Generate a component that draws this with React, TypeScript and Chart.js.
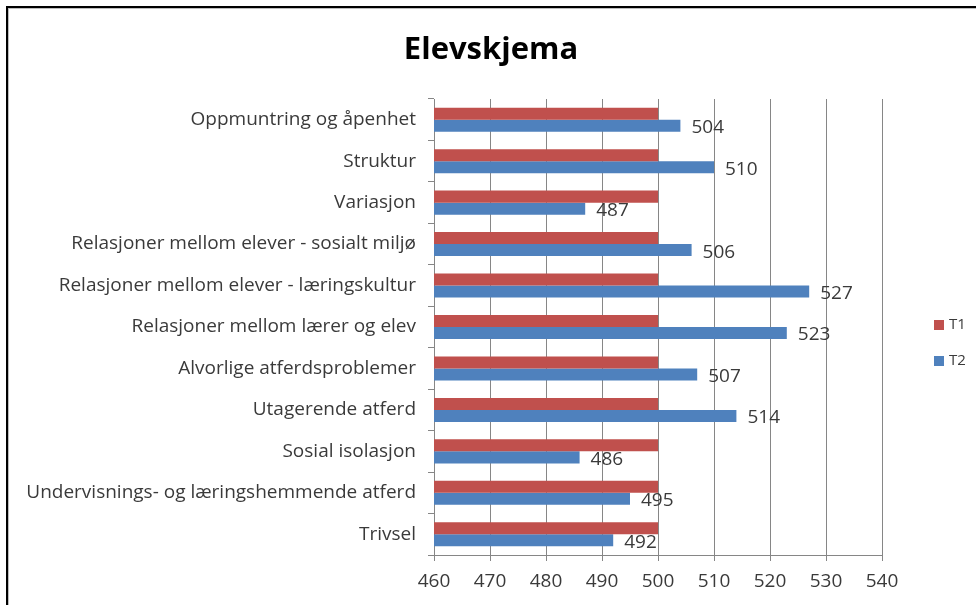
import React, { useEffect, useRef } from "react";
import { Chart, registerables } from "chart.js";

Chart.register(...registerables);

const categories = [
  "Oppmuntring og åpenhet",
  "Struktur",
  "Variasjon",
  "Relasjoner mellom elever - sosialt miljø",
  "Relasjoner mellom elever - læringskultur",
  "Relasjoner mellom lærer og elev",
  "Alvorlige atferdsproblemer",
  "Utagerende atferd",
  "Sosial isolasjon",
  "Undervisnings- og læringshemmende atferd",
  "Trivsel",
];
const t1Values = [500, 500, 500, 500, 500, 500, 500, 500, 500, 500, 500];
const t2Values = [504, 510, 487, 506, 527, 523, 507, 514, 486, 495, 492];
const seriesNames = ["T1", "T2"];
const titleText = "Elevskjema";
const xMin = 460;
const xMax = 540;
const xStep = 10;

const FONT = "'Open Sans', 'Liberation Sans', sans-serif";
const TEXT = "#3a3a3a";

export default function App() {
  const ref = useRef<HTMLCanvasElement | null>(null);
  useEffect(() => {
    const canvas = ref.current;
    if (!canvas) return;

    const framePlugin = {
      id: "frame",
      beforeDraw(chart: any) {
        const c = chart.ctx;
        c.save();
        c.fillStyle = "#ffffff";
        c.fillRect(0, 0, chart.width, chart.height);
        c.fillStyle = "#000000";
        c.fillRect(6, 6, chart.width - 6, 2);
        c.fillRect(6, 6, 2, chart.height - 6);
        c.fillStyle = "#bdbdbd";
        c.fillRect(8, 8, chart.width - 8, 1);
        c.fillRect(8, 8, 1, chart.height - 8);
        c.restore();
      },
      afterDraw(chart: any) {
        const c = chart.ctx;
        c.save();
        c.font = `bold 31px ${FONT}`;
        c.fillStyle = "#000000";
        c.textAlign = "center";
        c.textBaseline = "middle";
        c.fillText(titleText, 491, 50);
        c.restore();
      },
    };

    const labelPlugin = {
      id: "valueLabels",
      afterDatasetsDraw(chart: any) {
        const c = chart.ctx;
        const meta = chart.getDatasetMeta(1);
        const data = chart.data.datasets[1].data;
        c.save();
        c.font = `19px ${FONT}`;
        c.fillStyle = TEXT;
        c.textAlign = "left";
        c.textBaseline = "middle";
        meta.data.forEach((el: any, i: number) => {
          c.fillText(String(data[i]), el.x + 11, el.y + 2);
        });
        c.restore();
      },
    };

    const legendPlugin = {
      id: "customLegend",
      afterDraw(chart: any) {
        const c = chart.ctx;
        c.save();
        c.font = `15px ${FONT}`;
        c.textBaseline = "middle";
        c.textAlign = "left";
        const ys = [325, 361];
        chart.data.datasets.forEach((ds: any, i: number) => {
          c.fillStyle = ds.backgroundColor;
          c.fillRect(934, ys[i] - 5, 10, 10);
          c.fillStyle = TEXT;
          c.fillText(ds.label, 949, ys[i]);
        });
        c.restore();
      },
    };

    const chart = new Chart(canvas, {
      type: "bar",
      data: {
        labels: categories,
        datasets: [
          {
            label: seriesNames[0],
            data: t1Values,
            backgroundColor: "#C0504D",
            borderWidth: 0,
          },
          {
            label: seriesNames[1],
            data: t2Values,
            backgroundColor: "#4F81BD",
            borderWidth: 0,
          },
        ],
      },
      options: {
        indexAxis: "y",
        animation: false,
        responsive: false,
        maintainAspectRatio: false,
        datasets: {
          bar: { categoryPercentage: 0.58, barPercentage: 1.0 },
        },
        layout: { padding: { left: 10, right: 94, top: 99, bottom: 0 } },
        plugins: {
          legend: { display: false },
          tooltip: { enabled: false },
          title: { display: false },
        },
        scales: {
          x: {
            min: xMin,
            max: xMax,
            ticks: {
              stepSize: xStep,
              color: TEXT,
              font: { family: FONT, size: 19 },
              padding: 9,
            },
            grid: {
              color: "#868686",
              lineWidth: 1,
              drawTicks: true,
              tickLength: 6,
            },
            border: { color: "#868686", width: 1 },
            afterFit(scale: any) {
              scale.height = 50;
            },
          },
          y: {
            ticks: {
              color: TEXT,
              font: { family: FONT, size: 19 },
              padding: 12,
            },
            grid: {
              offset: true,
              drawOnChartArea: false,
              drawTicks: true,
              tickLength: 6,
              color: "#868686",
            },
            border: { color: "#868686", width: 1 },
            afterFit(scale: any) {
              scale.width = 424;
            },
          },
        },
      },
      plugins: [framePlugin, labelPlugin, legendPlugin],
    });
    return () => chart.destroy();
  }, []);

  return (
    <div style={{ position: "fixed", left: 0, top: 0, width: 976, height: 605 }}>
      <canvas ref={ref} width={976} height={605} style={{ width: 976, height: 605 }} />
    </div>
  );
}
